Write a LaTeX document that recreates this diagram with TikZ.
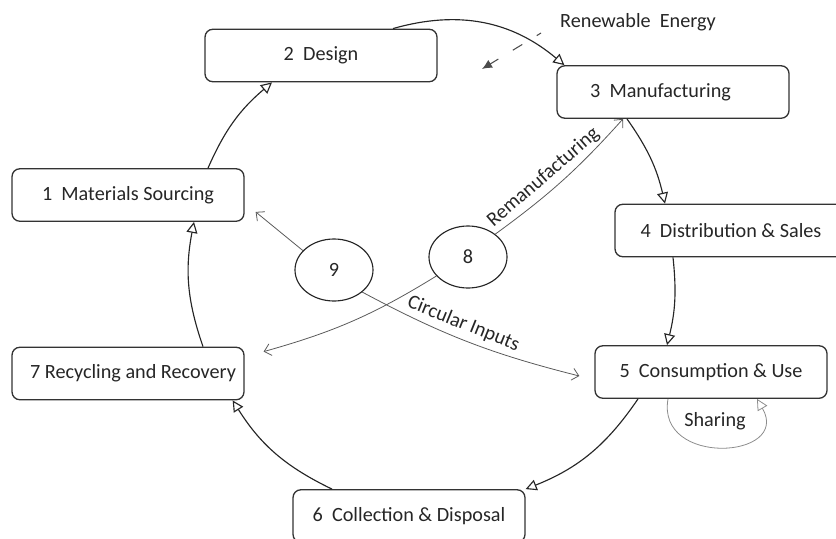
\documentclass[tikz,border=0pt]{standalone}
\usepackage{fontspec}
\setmainfont{Carlito}
\usetikzlibrary{arrows.meta,shapes.geometric}

\begin{document}
\begin{tikzpicture}[
        font=\fontsize{11.5pt}{14pt}\selectfont,
        box/.style={draw=black!80, line width=0.75pt, rounded corners=4.5pt, minimum width=4.64cm, minimum height=1.05cm, text=black!85},
        circ/.style={draw=black!85, ellipse, line width=0.65pt, minimum width=1.56cm, minimum height=1.24cm, inner sep=0pt, text=black!85},
        cyc/.style={draw=black!85, line width=0.65pt, -{Triangle[open, length=0.22cm, width=0.22cm]}},
        flow/.style={draw=black!65, line width=0.45pt, -{Straight Barb[length=0.13cm, width=0.24cm]}},
        >=latex
    ]
        \useasboundingbox (0,0) rectangle (16.72,-10.76);

        % Stages of the loop
        \node[box] (mat) at (2.56,-3.90) {1~~Materials Sourcing};
        \node[box] (des) at (6.42,-1.11) {2~~Design};
        \node[box] (man) at (13.46,-1.84) {3~~Manufacturing\hspace*{0.5cm}};
        \node[box] (dist) at (14.62,-4.61) {4~~Distribution \& Sales};
        \node[box] (cons) at (14.22,-7.44) {5~~Consumption \& Use};
        \node[box] (coll) at (8.18,-10.32) {6~~Collection \& Disposal};
        \node[box] (rec) at (2.56,-7.47) {\hspace*{0.2cm}7 Recycling and Recovery};

        % Inner loops
        \node[circ] (nine) at (6.68,-5.40) {9};
        \node[circ] (eight) at (9.36,-5.14) {8};

        % Energy input
        \node[text=black!85] (renew) at (12.76,-0.44) {Renewable~~Energy};
        \coordinate (rtip) at (9.64,-1.38);

        % Main cycle, one arc per step
        \draw[cyc] ([xshift=1.6cm]mat.north) to[bend left=13] ([xshift=-0.98cm]des.south);
        \draw[cyc] ([xshift=1.44cm]des.north) to[bend left=28] ([xshift=0.16cm]man.north west);
        \draw[cyc] ([xshift=-0.92cm]man.south) to[bend left=11] ([xshift=-1.32cm]dist.north);
        \draw[cyc] ([xshift=-1.16cm]dist.south) to[bend left=10] ([xshift=-0.88cm]cons.north);
        \draw[cyc] ([xshift=-1.46cm]cons.south) to[bend left=17] (coll.north east);
        \draw[cyc] ([xshift=-1.54cm]coll.north) to[bend left=16] ([xshift=-0.24cm]rec.south east);
        \draw[cyc] ([xshift=1.5cm]rec.north) to[bend left=15] ([xshift=1.32cm]mat.south);

        % Flows from the inner loops
        \draw[flow] (nine.148) -- ([xshift=0.22cm,yshift=0.2cm]mat.south east);
        \draw[flow] (eight.40) to[bend right=6]
            node[sloped, above, pos=0.42, text=black!85] (remlab) {Remanufacturing} ([xshift=-1cm]man.south);
        \draw[flow] (eight.211) to[bend left=8] ([xshift=0.38cm,yshift=-0.1cm]rec.north east);
        \draw[flow] (nine.-38) to[bend right=7]
            node[sloped, above, pos=0.45, text=black!85] (cirlab) {Circular Inputs} ([xshift=-0.3cm,yshift=-0.08cm]cons.west);

        % Sharing loop under stage 5
        \draw[cyc, draw=black!45, line width=0.45pt] ([xshift=-0.86cm]cons.south)
            to[out=-100, in=-60, looseness=2] ([xshift=0.92cm]cons.south);
        \node[text=black!85] (share) at (14.30,-8.42) {Sharing};

        % Dashed energy arrow
        \draw[draw=black!70, line width=0.6pt, dash pattern=on 0.22cm off 0.34cm, dash phase=0.12cm, -{Latex[length=0.2cm, width=0.18cm]}]
            ([xshift=-0.26cm,yshift=-0.22cm]renew.west) -- (rtip);
    \end{tikzpicture}
\end{document}
